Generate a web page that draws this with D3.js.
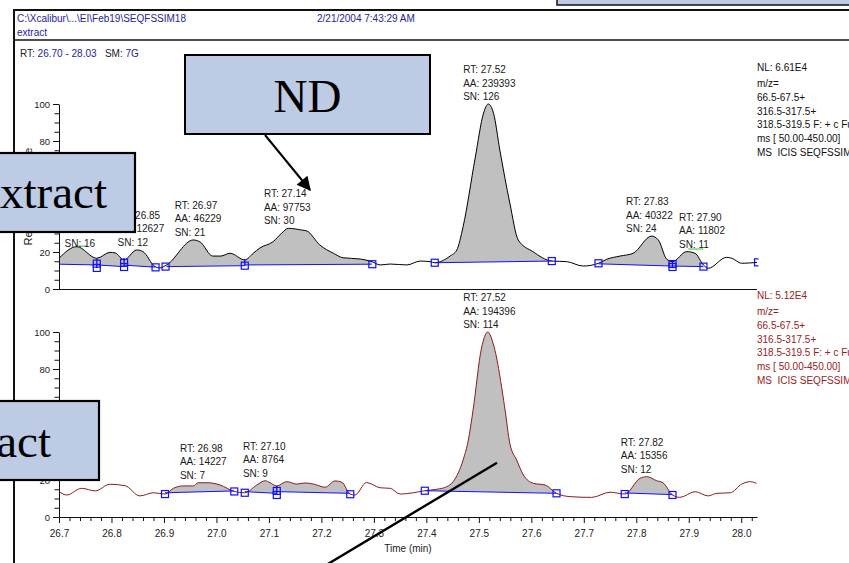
<!DOCTYPE html>
<html><head><meta charset="utf-8">
<script src="https://cdn.jsdelivr.net/npm/d3@7"></script>
<style>
html,body{margin:0;padding:0;background:#fff;overflow:hidden}
svg{display:block}
text{font-family:"Liberation Sans",Arial,sans-serif}
text.serif{font-family:"Liberation Serif","Times New Roman",serif}
</style></head><body>
<svg id="c" width="849" height="563"></svg>
<script>
// ---------- data ----------
const xMajorTicks = [26.7,26.8,26.9,27.0,27.1,27.2,27.3,27.4,27.5,27.6,27.7,27.8,27.9,28.0];
const yMajorTicks = [0,20,40,60,80,100];

const topTrace = [[26.700,16.6],[26.734,22.9],[26.772,16.6],[26.797,19.8],[26.807,19.5],[26.824,15.7],[26.848,21.1],[26.860,20.2],[26.883,12.1],[26.892,11.4],[26.905,13.0],[26.956,26.5],[26.969,25.4],[26.993,17.8],[27.008,17.8],[27.026,19.3],[27.054,15.7],[27.070,19.3],[27.083,22.2],[27.108,25.6],[27.124,30.1],[27.137,32.8],[27.162,31.9],[27.172,31.4],[27.197,23.8],[27.223,19.3],[27.241,16.9],[27.274,16.2],[27.296,14.8],[27.312,13.0],[27.331,13.5],[27.363,13.0],[27.388,15.1],[27.407,14.8],[27.416,14.2],[27.445,17.8],[27.458,21.1],[27.470,33.7],[27.493,70.8],[27.509,95.1],[27.518,100],[27.528,95.0],[27.540,75.1],[27.559,46.5],[27.575,26.5],[27.603,20.2],[27.639,15.1],[27.667,14.8],[27.699,12.4],[27.728,13.9],[27.744,16.1],[27.769,17.8],[27.794,19.3],[27.829,28.6],[27.842,26.5],[27.858,16.1],[27.869,14.8],[27.896,20.2],[27.912,19.3],[27.928,13.0],[27.937,11.2],[27.972,17.1],[27.982,16.6],[28.001,13.9],[28.030,14.4]];

const botTrace = [[26.700,13.7],[26.715,11.9],[26.743,15.5],[26.769,14.1],[26.797,17.7],[26.826,16.9],[26.854,11.4],[26.880,13.1],[26.902,12.4],[26.918,15.5],[26.937,16.8],[26.956,16.8],[26.965,18.5],[26.984,18.5],[27.007,17.3],[27.034,13.8],[27.054,13.1],[27.077,17.3],[27.093,19.6],[27.102,18.5],[27.115,16.8],[27.134,19.1],[27.153,17.8],[27.169,18.4],[27.185,17.8],[27.207,16.1],[27.226,19.5],[27.239,18.8],[27.255,12.3],[27.264,11.9],[27.286,18.6],[27.312,15.8],[27.331,15.5],[27.350,12.4],[27.375,13.1],[27.397,14.2],[27.420,15.0],[27.439,16.4],[27.451,19.1],[27.470,30.8],[27.480,41.6],[27.489,57.8],[27.505,91.2],[27.517,100],[27.528,93.0],[27.550,57.8],[27.559,39.8],[27.572,30.8],[27.585,22.7],[27.604,18.2],[27.626,17.3],[27.648,12.8],[27.674,11.0],[27.715,10.6],[27.750,13.4],[27.778,12.4],[27.807,20.9],[27.820,21.8],[27.839,19.6],[27.851,18.5],[27.869,11.9],[27.883,10.6],[27.912,13.7],[27.937,11.4],[27.953,12.8],[27.979,13.1],[28.001,17.8],[28.017,19.1],[28.029,18.2]];

const topBaselines = [[[26.700,13.4],[26.772,13.0]],[[26.772,13.0],[26.824,12.1]],[[26.824,12.9],[26.883,11.8]],[[26.905,12.1],[27.054,12.6]],[[27.054,13.0],[27.296,13.4]],[[27.416,14.2],[27.639,15.1]],[[27.728,13.6],[27.869,12.4]],[[27.869,12.4],[27.928,12.1]]];
const botBaselines = [[[26.902,13.1],[27.034,14.1]],[[27.054,13.7],[27.115,12.8]],[[27.115,13.7],[27.255,12.8]],[[27.397,14.2],[27.648,12.8]],[[27.778,13.0],[27.869,12.1]]];

const topMarkers = [[26.772,13.7],[26.772,11.4],[26.824,14.2],[26.824,11.9],[26.884,11.7],[26.903,12.1],[27.054,12.6],[27.297,13.4],[27.416,14.2],[27.639,15.1],[27.728,13.9],[27.869,13.5],[27.869,11.9],[27.928,12.1],[28.032,14.4]];
const botMarkers = [[26.902,12.4],[27.034,13.8],[27.054,13.1],[27.115,14.1],[27.115,11.9],[27.255,12.3],[27.397,14.2],[27.648,12.8],[27.778,12.4],[27.869,11.9]];

const topSplits = [[26.772,16.6,11.4],[26.824,16.8,11.9],[27.054,16.2,12.4],[27.869,15.1,11.9]];
const botSplits = [[27.115,16.8,11.9]];

const topNoise = [[26.734,26.753,23.2],[27.899,27.927,21.6]];
const botNoise = [];

const topLabelRT = [26.76,26.85,26.97,27.14,27.52,27.83,27.90];
const topLabelAA = [null,12627,46229,97753,239393,40322,11802];
const topLabelSN = [16,12,21,30,126,24,11];
const topLabelHeight = [20.3,21.1,26.5,32.8,100,28.6,20.2];

const botLabelRT = [26.98,27.10,27.52,27.82];
const botLabelAA = [14227,8764,194396,15356];
const botLabelSN = [7,9,114,12];
const botLabelHeight = [18.5,19.6,100,21.8];

const topInfo = ["NL: 6.61E4","m/z=","66.5-67.5+","316.5-317.5+","318.5-319.5 F: + c Full","ms [ 50.00-450.00]","MS  ICIS SEQFSSIM18"];
const botInfo = ["NL: 5.12E4","m/z=","66.5-67.5+","316.5-317.5+","318.5-319.5 F: + c Full","ms [ 50.00-450.00]","MS  ICIS SEQFSSIM18"];

// ---------- drawing ----------
const W = 849, H = 563;
const svg = d3.select("#c");
const defs = svg.append("defs");
const BLUEBOX = "#bdcbe4";
const x = d3.scaleLinear().domain([26.70, 28.03]).range([59, 757]);

defs.append("clipPath").attr("id","mclip").append("rect").attr("x",40).attr("y",0).attr("width",718.5).attr("height",H);
defs.append("marker").attr("id","arrow").attr("viewBox","0 0 10 10").attr("refX",9).attr("refY",5)
  .attr("markerUnits","userSpaceOnUse").attr("markerWidth",16).attr("markerHeight",14).attr("orient","auto")
  .append("path").attr("d","M0,0 L10,5 L0,10 Z").attr("fill","#000");

// frame/header
svg.append("line").attr("x1",14).attr("x2",14).attr("y1",9).attr("y2",H).attr("stroke","#111").attr("stroke-width",2);
svg.append("line").attr("x1",13).attr("x2",W).attr("y1",10).attr("y2",10).attr("stroke","#111").attr("stroke-width",2);
svg.append("line").attr("x1",14).attr("x2",W).attr("y1",40).attr("y2",40).attr("stroke","#111").attr("stroke-width",1.5);
svg.append("rect").attr("x",557).attr("y",-10).attr("width",310).attr("height",15).attr("fill",BLUEBOX).attr("stroke","#111").attr("stroke-width",1.5);

const HB = "#2323a0";
svg.append("text").attr("x",17).attr("y",21.5).attr("font-size",10).attr("fill",HB).text("C:\\Xcalibur\\...\\EI\\Feb19\\SEQFSSIM18");
svg.append("text").attr("x",317).attr("y",21.5).attr("font-size",10).attr("fill",HB).text("2/21/2004 7:43:29 AM");
svg.append("text").attr("x",17).attr("y",35.5).attr("font-size",10).attr("fill",HB).text("extract");
const rtt = svg.append("text").attr("x",20).attr("y",56.5).attr("font-size",10).attr("fill","#222").attr("xml:space","preserve");
rtt.append("tspan").text("RT: ");
rtt.append("tspan").attr("fill",HB).text("26.70 - 28.03");
rtt.append("tspan").text("   SM: ");
rtt.append("tspan").attr("fill",HB).text("7G");

const panels = [
  {y: d3.scaleLinear().domain([0,100]).range([289,104]), trace: topTrace, color:"#000", base: topBaselines,
   markers: topMarkers, splits: topSplits, noise: topNoise, rt: topLabelRT, aa: topLabelAA, sn: topLabelSN, h: topLabelHeight,
   info: topInfo, infoColor:"#111", xaxis:false, ylabel:true},
  {y: d3.scaleLinear().domain([0,100]).range([517,332]), trace: botTrace, color:"#8e1a1a", base: botBaselines,
   markers: botMarkers, splits: botSplits, noise: botNoise, rt: botLabelRT, aa: botLabelAA, sn: botLabelSN, h: botLabelHeight,
   info: botInfo, infoColor:"#982222", xaxis:true, ylabel:false}
];

panels.forEach((p, pi) => {
  const y = p.y;
  const g = svg.append("g");
  p.base.forEach((s, si) => {
    const id = `fc${pi}_${si}`;
    defs.append("clipPath").attr("id", id).append("rect")
      .attr("x", x(s[0][0])).attr("y", 0).attr("width", x(s[1][0]) - x(s[0][0])).attr("height", H);
    const bl = t => s[0][1] + (s[1][1] - s[0][1]) * (t - s[0][0]) / (s[1][0] - s[0][0]);
    const area = d3.area().x(d => x(d[0])).y1(d => y(d[1])).y0(d => y(bl(d[0]))).curve(d3.curveMonotoneX);
    g.append("path").datum(p.trace).attr("d", area).attr("clip-path", `url(#${id})`).attr("fill", "#c0c0c0");
  });
  g.append("path").datum(p.trace)
    .attr("d", d3.line().x(d => x(d[0])).y(d => y(d[1])).curve(d3.curveMonotoneX))
    .attr("fill","none").attr("stroke", p.color).attr("stroke-width", 1);
  p.base.forEach(s => {
    g.append("line").attr("x1", x(s[0][0])).attr("y1", y(s[0][1])).attr("x2", x(s[1][0])).attr("y2", y(s[1][1]))
      .attr("stroke", "#1010ff").attr("stroke-width", 1);
  });
  p.splits.forEach(s => {
    g.append("line").attr("x1", x(s[0])).attr("x2", x(s[0])).attr("y1", y(s[1])).attr("y2", y(s[2]))
      .attr("stroke", "#1010ff").attr("stroke-width", 1.3);
  });
  g.append("g").attr("clip-path","url(#mclip)").selectAll("rect").data(p.markers).join("rect")
    .attr("x", d => x(d[0]) - 3.5).attr("y", d => y(d[1]) - 3.5).attr("width", 7).attr("height", 7)
    .attr("fill","none").attr("stroke","#1010ff").attr("stroke-width",1.2);
  p.noise.forEach(n => {
    g.append("line").attr("x1", x(n[0])).attr("x2", x(n[1])).attr("y1", y(n[2])).attr("y2", y(n[2]))
      .attr("stroke","#33bb33").attr("stroke-width",1);
  });

  const yMinor = d3.range(0, 101, 5);
  const ya = g.append("g").attr("transform", `translate(${x(26.70)},0)`)
    .call(d3.axisLeft(y).tickValues(yMinor).tickSize(6).tickSizeOuter(0).tickPadding(3)
      .tickFormat(d => yMajorTicks.includes(d) ? d : ""));
  ya.selectAll(".tick line").attr("x2", d => yMajorTicks.includes(d) ? -6 : -4.5).attr("stroke","#111");
  ya.select(".domain").attr("stroke","#111");
  ya.selectAll("text").attr("font-size", 9.5).attr("fill","#222");

  if (p.xaxis) {
    const xMinor = d3.range(0, 67).map(i => +(26.70 + i * 0.02).toFixed(2));
    const isMajor = d => xMajorTicks.some(m => Math.abs(m - d) < 1e-6);
    const xa = g.append("g").attr("transform", `translate(0,${y(0)})`)
      .call(d3.axisBottom(x).tickValues(xMinor).tickSize(6).tickSizeOuter(0).tickPadding(6.4)
        .tickFormat(d => isMajor(d) ? d.toFixed(1) : ""));
    xa.selectAll(".tick line").attr("y2", d => isMajor(d) ? 6 : 4).attr("stroke","#111");
    xa.select(".domain").attr("stroke","#111");
    xa.selectAll("text").attr("font-size", 10).attr("fill","#222");
    g.append("text").attr("x", (x.range()[0] + x.range()[1]) / 2).attr("y", 551.5).attr("text-anchor","middle")
      .attr("font-size", 10).attr("fill","#222").text("Time (min)");
  } else {
    g.append("line").attr("x1", x.range()[0]).attr("x2", x.range()[1]).attr("y1", y(0) + 0.5).attr("y2", y(0) + 0.5)
      .attr("stroke","#111").attr("stroke-width",1);
  }
  if (p.ylabel) {
    g.append("text").attr("transform", `translate(32,${(y(0) + y(100)) / 2}) rotate(-90)`).attr("text-anchor","middle")
      .attr("font-size", 11).attr("fill","#222").text("Relative Abundance");
  }

  const placed = [];
  p.rt.forEach((rt, i) => {
    const lines = [];
    if (p.aa[i] != null) { lines.push("RT: " + rt.toFixed(2)); lines.push("AA: " + p.aa[i]); }
    lines.push("SN: " + p.sn[i]);
    const apexY = y(p.h[i]);
    const lh = 13.5;
    const snBase = apexY - 4;
    const tg = g.append("g");
    const ts = lines.map((l, k) => tg.append("text").attr("y", snBase - (lines.length - 1 - k) * lh)
      .attr("font-size", 10).attr("fill","#1a1a1a").text(l));
    let w = Math.max(52, d3.max(ts, t => t.node().getComputedTextLength()));
    let left = x(rt) - w / 2;
    const top = snBase - (lines.length - 1) * lh - 9, bottom = snBase + 2;
    placed.forEach(b => {
      if (left < b.r + 1 && left + w > b.l && top < b.b && bottom > b.t) left = b.r + 1;
    });
    placed.push({l:left, r:left + w, t:top, b:bottom});
    ts.forEach(t => t.attr("x", left));
  });

  p.info.forEach((s, k) => {
    g.append("text").attr("x", 757).attr("y", k === 0 ? y(100) - 33.5 : y(100) - 17 + (k - 1) * 13.75)
      .attr("font-size", 10).attr("fill", p.infoColor).attr("xml:space","preserve").text(s);
  });
});

// callout boxes
svg.append("rect").attr("x",185).attr("y",55).attr("width",245).attr("height",79).attr("fill",BLUEBOX).attr("stroke","#000").attr("stroke-width",2);
svg.append("text").attr("class","serif").attr("x",307.5).attr("y",112).attr("text-anchor","middle").attr("font-size",47).attr("fill","#000").text("ND");
svg.append("line").attr("x1",265).attr("y1",135).attr("x2",310).attr("y2",190).attr("stroke","#000").attr("stroke-width",2).attr("marker-end","url(#arrow)");

svg.append("rect").attr("x",-60).attr("y",153).attr("width",195).attr("height",79).attr("fill",BLUEBOX).attr("stroke","#000").attr("stroke-width",2.2);
svg.append("text").attr("class","serif").attr("x",107).attr("y",208).attr("text-anchor","end").attr("font-size",47).attr("fill","#000").text("Extract");

svg.append("rect").attr("x",-60).attr("y",401).attr("width",159).attr("height",79).attr("fill",BLUEBOX).attr("stroke","#000").attr("stroke-width",2.2);
svg.append("text").attr("class","serif").attr("x",51).attr("y",457).attr("text-anchor","end").attr("font-size",47).attr("fill","#000").text("Extract");

svg.append("line").attr("x1",310).attr("y1",574.7).attr("x2",497).attr("y2",462.7).attr("stroke","#000").attr("stroke-width",2.4);
</script>
</body></html>
